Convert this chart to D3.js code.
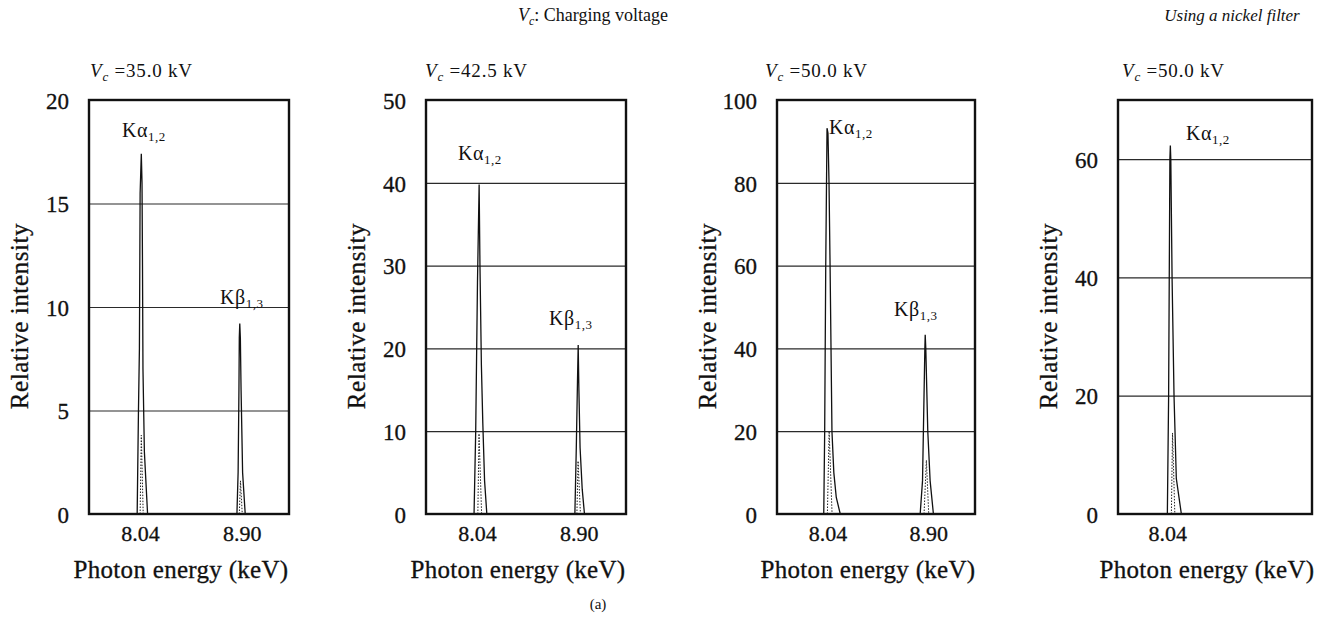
<!DOCTYPE html>
<html>
<head>
<meta charset="utf-8">
<script src="https://cdn.jsdelivr.net/npm/d3@7"></script>
<style>
  body { margin: 0; background: #fff; }
  svg text { font-family: "Liberation Serif", "Times New Roman", serif; fill: #111; }
  .ink { stroke: #111; stroke-width: 0.3px; }
  .grid line { stroke: #2a2a2a; stroke-width: 1.2; }
  .grid path, .axis path { display: none; }
</style>
</head>
<body>
<svg width="1318" height="617"></svg>
<script>
// ---- data ----
var voltages = ["35.0", "42.5", "50.0", "50.0"];
var yMax = [20, 50, 100, 70];
var yTicks = [[0, 5, 10, 15, 20], [0, 10, 20, 30, 40, 50], [0, 20, 40, 60, 80, 100], [0, 20, 40, 60]];
var xTicks = [[8.04, 8.90], [8.04, 8.90], [8.04, 8.90], [8.04]];
var energyRange = [7.61, 9.30];

// solid spectrum peaks [energy keV, relative intensity]
var kAlpha = [
  [[8.017, 0], [8.028, 5], [8.036, 8], [8.042, 15.5], [8.052, 17.4], [8.058, 16], [8.062, 12], [8.066, 7], [8.078, 3], [8.105, 0]],
  [[8.016, 0], [8.030, 10], [8.045, 28], [8.059, 39.8], [8.066, 30], [8.078, 18], [8.090, 11], [8.105, 4], [8.124, 0]],
  [[8.009, 0], [8.017, 20], [8.026, 60], [8.037, 93.2], [8.045, 92], [8.054, 80], [8.063, 60], [8.079, 20], [8.095, 10], [8.116, 4], [8.150, 0]],
  [[8.040, 0], [8.051, 20], [8.062, 60], [8.066, 62.3], [8.070, 60], [8.081, 40], [8.098, 20], [8.118, 6], [8.162, 0]]
];
var kBeta = [
  [[8.860, 0], [8.870, 2], [8.877, 6], [8.880, 8.5], [8.884, 9.2], [8.889, 8.5], [8.895, 6], [8.908, 2], [8.930, 0]],
  [[8.868, 0], [8.880, 8], [8.890, 16], [8.896, 20.4], [8.902, 15], [8.912, 8], [8.930, 3], [8.949, 0]],
  [[8.832, 0], [8.852, 8], [8.872, 40], [8.875, 43.3], [8.880, 40], [8.897, 20], [8.917, 8], [8.945, 0]],
  null
];
// dotted inner peaks
var kAlphaDot = [
  [[8.042, 0], [8.052, 3.8], [8.068, 0]],
  [[8.048, 0], [8.058, 9.7], [8.080, 0]],
  [[8.040, 0], [8.055, 20], [8.080, 0]],
  [[8.075, 0], [8.085, 13.7], [8.105, 0]]
];
var kBetaDot = [
  [[8.880, 0], [8.890, 1.6], [8.905, 0]],
  [[8.885, 0], [8.895, 6.4], [8.915, 0]],
  [[8.865, 0], [8.885, 13], [8.905, 0]],
  null
];

// ---- layout ----
var svg = d3.select("svg");
var frameTop = 100, frameBottom = 514, h = frameBottom - frameTop;
var panels = [
  { left: 89, width: 200, titleDx: 1, ka: [33, 137], kb: [131, 304] },
  { left: 426, width: 200, titleDx: -1, ka: [32, 160], kb: [123, 325] },
  { left: 777, width: 198, titleDx: -12, ka: [52, 134], kb: [117, 316] },
  { left: 1118, width: 194, titleDx: 4, ka: [68, 140], kb: null }
];

function vcLabel(sel, value) {
  sel.append("tspan").style("font-style", "italic").text("V");
  sel.append("tspan").style("font-style", "italic").attr("font-size", "13px").attr("dy", 4).text("c");
  sel.append("tspan").attr("dy", -4).text(" =" + value + " kV");
}

function peakLabel(g, pos, greek, sub) {
  var t = g.append("text").attr("x", pos[0]).attr("y", pos[1] - frameTop)
    .attr("font-size", "20px").attr("letter-spacing", "0.5px");
  t.append("tspan").text("K" + greek);
  t.append("tspan").attr("font-size", "13px").attr("dy", 4).text(sub);
}

panels.forEach(function(p, i) {
  var w = p.width;
  var x = d3.scaleLinear().domain(energyRange).range([0, w]);
  var y = d3.scaleLinear().domain([0, yMax[i]]).range([h, 0]);
  var g = svg.append("g").attr("transform", "translate(" + p.left + "," + frameTop + ")");

  // gridlines
  g.append("g").attr("class", "grid")
    .call(d3.axisLeft(y)
      .tickValues(yTicks[i].filter(function(v) { return v > 0 && v < yMax[i]; }))
      .tickSize(-w)
      .tickFormat(""));

  // y tick labels
  g.append("g").attr("class", "axis")
    .call(d3.axisLeft(y).tickValues(yTicks[i]).tickSize(0).tickPadding(20).tickFormat(d3.format("d")))
    .selectAll("text")
    .attr("class", "ink")
    .style("font-family", "'Liberation Serif', serif")
    .style("font-size", "23px")
    .attr("fill", "#111")
    .attr("dy", "0.36em");

  // x tick labels
  g.append("g").attr("class", "axis")
    .attr("transform", "translate(0," + h + ")")
    .call(d3.axisBottom(x).tickValues(xTicks[i]).tickSize(0).tickPadding(11).tickFormat(d3.format(".2f")))
    .selectAll("text")
    .attr("class", "ink")
    .style("font-family", "'Liberation Serif', serif")
    .style("font-size", "22px")
    .attr("fill", "#111");

  var line = d3.line()
    .x(function(d) { return x(d[0]); })
    .y(function(d) { return y(d[1]); });

  // spectra
  [kAlpha[i], kBeta[i]].forEach(function(pk) {
    if (!pk) return;
    g.append("path").attr("d", line(pk))
      .attr("fill", "none").attr("stroke", "#111").attr("stroke-width", 1.3);
  });
  [kAlphaDot[i], kBetaDot[i]].forEach(function(pk) {
    if (!pk) return;
    g.append("path").attr("d", line(pk))
      .attr("fill", "none").attr("stroke", "#222").attr("stroke-width", 1)
      .attr("stroke-dasharray", "1.5,1.5");
  });

  // frame
  g.append("rect").attr("x", 0).attr("y", 0).attr("width", w).attr("height", h)
    .attr("fill", "none").attr("stroke", "#111").attr("stroke-width", 2.4);

  // peak labels
  peakLabel(g, p.ka, "\u03b1", "1,2");
  if (p.kb) peakLabel(g, p.kb, "\u03b2", "1,3");

  // titles
  vcLabel(svg.append("text")
    .attr("x", p.left + p.titleDx).attr("y", 77)
    .attr("font-size", "19px").attr("letter-spacing", "0.8px"), voltages[i]);

  svg.append("text")
    .attr("class", "ink")
    .attr("transform", "translate(" + (p.left - 61) + "," + 316 + ") rotate(-90)")
    .attr("text-anchor", "middle")
    .attr("font-size", "25px")
    .attr("letter-spacing", "0.6px")
    .text("Relative intensity");

  svg.append("text")
    .attr("class", "ink")
    .attr("x", p.left + w / 2 - 8).attr("y", 578)
    .attr("text-anchor", "middle")
    .attr("font-size", "25px")
    .attr("letter-spacing", "0.3px")
    .text("Photon energy (keV)");
});

// overall captions
var cap = svg.append("text").attr("x", 593).attr("y", 21).attr("text-anchor", "middle").attr("font-size", "18px");
cap.append("tspan").style("font-style", "italic").text("V");
cap.append("tspan").style("font-style", "italic").attr("font-size", "12px").attr("dy", 4).text("c");
cap.append("tspan").attr("dy", -4).text(": Charging voltage");

svg.append("text").attr("x", 1232).attr("y", 21).attr("text-anchor", "middle")
  .attr("font-size", "17px")
  .style("font-style", "italic").text("Using a nickel filter");

svg.append("text").attr("x", 598).attr("y", 609).attr("text-anchor", "middle")
  .attr("font-size", "15px").text("(a)");
</script>
</body>
</html>
